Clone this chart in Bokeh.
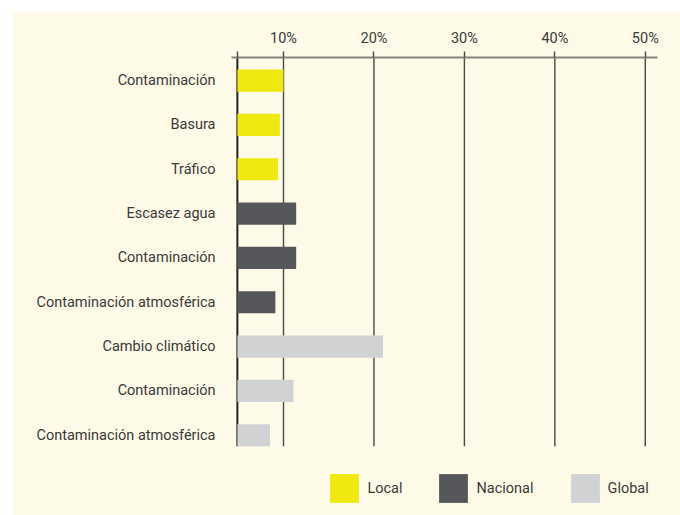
from bokeh.plotting import figure
from bokeh.models import (ColumnDataSource, Range1d, FixedTicker, PrintfTickFormatter,
                          Legend, LegendItem, Spacer)
from bokeh.layouts import column, row
from bokeh.embed import file_html
from bokeh.resources import INLINE

# ---- data ----
categories = ["Contaminación", "Basura", "Tráfico",
              "Escasez agua", "Contaminación", "Contaminación atmosférica",
              "Cambio climático", "Contaminación", "Contaminación atmosférica"]
groups = ["Local", "Local", "Local",
          "Nacional", "Nacional", "Nacional",
          "Global", "Global", "Global"]
values = [10.0, 9.6, 9.4, 11.4, 11.4, 9.1, 21.0, 11.1, 8.5]
group_names = ["Local", "Nacional", "Global"]
group_colors = ["#f0e90f", "#55575a", "#d1d2d4"]
x_ticks = [10, 20, 30, 40, 50]
baseline = 4.9

FONT = "Roboto"
CREAM = "#fdfbe8"
TEXT = "#3a3a3a"
GRID = "#4a4a4a"

y_top = -0.52      # frame top (axis line)
grid_end = 8.25    # where the vertical lines stop
y_bottom = 9.81    # frame bottom (room for legend)

p = figure(width=668, height=503, output_backend="svg", toolbar_location=None,
           x_range=Range1d(4.25, 51.35), y_range=Range1d(y_bottom, y_top),
           x_axis_location="above",
           min_border_left=219, min_border_right=23, min_border_top=45, min_border_bottom=0)
p.background_fill_color = CREAM
p.border_fill_color = CREAM
p.outline_line_color = None
p.xgrid.grid_line_color = None
p.ygrid.grid_line_color = None

# vertical grid lines and baseline
n = len(x_ticks)
p.segment(x0=x_ticks, x1=x_ticks, y0=[y_top] * n, y1=[grid_end] * n,
          line_color=GRID, line_width=1.4)
p.segment(x0=[baseline], x1=[baseline], y0=[y_top], y1=[grid_end],
          line_color="#222222", line_width=2)

renderers = {}
for name, color in zip(group_names, group_colors):
    idx = [i for i, g in enumerate(groups) if g == name]
    src = ColumnDataSource(dict(y=idx, right=[values[i] for i in idx]))
    r = p.hbar(y="y", right="right", left=baseline, height=0.5, source=src,
               fill_color=color, line_color=None)
    renderers[name] = r

# top axis
ax = p.xaxis[0]
ax.ticker = FixedTicker(ticks=[baseline] + x_ticks)
ax.formatter = PrintfTickFormatter(format="%d%%")
ax.major_label_overrides = {baseline: ""}
ax.axis_line_color = "#85837b"
ax.axis_line_width = 2
ax.major_tick_line_color = GRID
ax.major_tick_line_width = 1.4
ax.major_tick_out = 6
ax.major_tick_in = 0
ax.minor_tick_line_color = None
ax.major_label_text_font = FONT
ax.major_label_text_font_size = "14.5px"
ax.major_label_text_color = TEXT
ax.major_label_standoff = 5

# left axis with category labels
ay = p.yaxis[0]
ay.ticker = FixedTicker(ticks=list(range(len(categories))))
ay.major_label_overrides = {i: c for i, c in enumerate(categories)}
ay.axis_line_color = None
ay.major_tick_line_color = None
ay.minor_tick_line_color = None
ay.major_tick_out = 0
ay.major_label_standoff = 16
ay.major_label_text_font = FONT
ay.major_label_text_font_size = "14.5px"
ay.major_label_text_color = TEXT

legend = Legend(items=[LegendItem(label=nm, renderers=[renderers[nm]]) for nm in group_names],
                orientation="horizontal", location=(95.4, 8.6),
                glyph_width=36, glyph_height=36, label_standoff=5, spacing=33,
                padding=0, margin=0, border_line_alpha=0, background_fill_alpha=0,
                label_text_font=FONT, label_text_font_size="14.5px",
                label_text_color=TEXT)
p.add_layout(legend)

layout = column(Spacer(height=12), row(Spacer(width=12), p))
open("out.html", "w").write(file_html(layout, INLINE))
